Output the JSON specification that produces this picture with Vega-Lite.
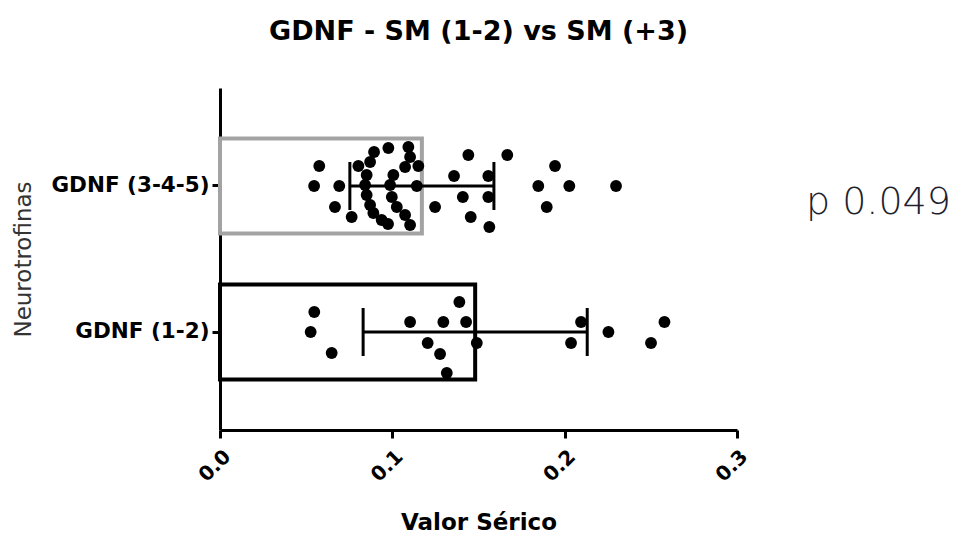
{
  "$schema": "https://vega.github.io/schema/vega-lite/v6.json",
  "width": 517,
  "height": 342,
  "autosize": {"type": "none"},
  "padding": {"left": 220, "top": 88, "right": 221, "bottom": 105},
  "background": "white",
  "title": {"text": "GDNF - SM (1-2) vs SM (+3)", "font": "DejaVu Sans", "fontSize": 27, "fontWeight": "bold", "color": "#000", "frame": "group", "anchor": "middle", "offset": 42},
  "config": {"view": {"stroke": null}},
  "datasets": {
    "pts": [
      {"g": "GDNF (3-4-5)", "v": 0.0576, "j": -20},
      {"g": "GDNF (3-4-5)", "v": 0.0546, "j": 0},
      {"g": "GDNF (3-4-5)", "v": 0.0692, "j": 0},
      {"g": "GDNF (3-4-5)", "v": 0.0667, "j": 21},
      {"g": "GDNF (3-4-5)", "v": 0.0764, "j": 31},
      {"g": "GDNF (3-4-5)", "v": 0.0803, "j": -20},
      {"g": "GDNF (3-4-5)", "v": 0.0894, "j": -34},
      {"g": "GDNF (3-4-5)", "v": 0.0871, "j": -24},
      {"g": "GDNF (3-4-5)", "v": 0.0851, "j": -11},
      {"g": "GDNF (3-4-5)", "v": 0.0842, "j": -1},
      {"g": "GDNF (3-4-5)", "v": 0.0851, "j": 9},
      {"g": "GDNF (3-4-5)", "v": 0.0871, "j": 19},
      {"g": "GDNF (3-4-5)", "v": 0.089, "j": 27},
      {"g": "GDNF (3-4-5)", "v": 0.0938, "j": 34},
      {"g": "GDNF (3-4-5)", "v": 0.0975, "j": 38},
      {"g": "GDNF (3-4-5)", "v": 0.0977, "j": -38},
      {"g": "GDNF (3-4-5)", "v": 0.1093, "j": -39},
      {"g": "GDNF (3-4-5)", "v": 0.1103, "j": -29},
      {"g": "GDNF (3-4-5)", "v": 0.1074, "j": -19},
      {"g": "GDNF (3-4-5)", "v": 0.1151, "j": -20},
      {"g": "GDNF (3-4-5)", "v": 0.1006, "j": -11},
      {"g": "GDNF (3-4-5)", "v": 0.0987, "j": -1},
      {"g": "GDNF (3-4-5)", "v": 0.1142, "j": 0},
      {"g": "GDNF (3-4-5)", "v": 0.0997, "j": 11},
      {"g": "GDNF (3-4-5)", "v": 0.1026, "j": 21},
      {"g": "GDNF (3-4-5)", "v": 0.1074, "j": 29},
      {"g": "GDNF (3-4-5)", "v": 0.1103, "j": 39},
      {"g": "GDNF (3-4-5)", "v": 0.1441, "j": -31},
      {"g": "GDNF (3-4-5)", "v": 0.1667, "j": -31},
      {"g": "GDNF (3-4-5)", "v": 0.1358, "j": -10},
      {"g": "GDNF (3-4-5)", "v": 0.1557, "j": -10},
      {"g": "GDNF (3-4-5)", "v": 0.1409, "j": 11},
      {"g": "GDNF (3-4-5)", "v": 0.1557, "j": 11},
      {"g": "GDNF (3-4-5)", "v": 0.1248, "j": 21},
      {"g": "GDNF (3-4-5)", "v": 0.1455, "j": 31},
      {"g": "GDNF (3-4-5)", "v": 0.1563, "j": 41},
      {"g": "GDNF (3-4-5)", "v": 0.1944, "j": -20},
      {"g": "GDNF (3-4-5)", "v": 0.1847, "j": 0},
      {"g": "GDNF (3-4-5)", "v": 0.2027, "j": 0},
      {"g": "GDNF (3-4-5)", "v": 0.1896, "j": 21},
      {"g": "GDNF (3-4-5)", "v": 0.2298, "j": 0},
      {"g": "GDNF (1-2)", "v": 0.0547, "j": -20},
      {"g": "GDNF (1-2)", "v": 0.0526, "j": 0},
      {"g": "GDNF (1-2)", "v": 0.0648, "j": 21},
      {"g": "GDNF (1-2)", "v": 0.1103, "j": -10},
      {"g": "GDNF (1-2)", "v": 0.1296, "j": -10},
      {"g": "GDNF (1-2)", "v": 0.1389, "j": -30},
      {"g": "GDNF (1-2)", "v": 0.1428, "j": -10},
      {"g": "GDNF (1-2)", "v": 0.1205, "j": 11},
      {"g": "GDNF (1-2)", "v": 0.1277, "j": 22},
      {"g": "GDNF (1-2)", "v": 0.1316, "j": 41},
      {"g": "GDNF (1-2)", "v": 0.149, "j": 11},
      {"g": "GDNF (1-2)", "v": 0.2095, "j": -10},
      {"g": "GDNF (1-2)", "v": 0.2037, "j": 11},
      {"g": "GDNF (1-2)", "v": 0.2254, "j": 0},
      {"g": "GDNF (1-2)", "v": 0.2579, "j": -10},
      {"g": "GDNF (1-2)", "v": 0.2501, "j": 11}
    ],
    "ann": [{"g": "GDNF (3-4-5)", "x": 0.34, "label": "p 0.049"}]
  },
  "encoding": {
    "y": {
      "field": "g", "type": "nominal",
      "sort": ["GDNF (3-4-5)", "GDNF (1-2)"],
      "scale": {"domain": ["GDNF (3-4-5)", "GDNF (1-2)"], "paddingInner": 0.35, "paddingOuter": 0.346},
      "axis": {
        "title": "Neurotrofinas", "titleFont": "DejaVu Sans", "titleFontSize": 23, "titleFontWeight": "normal", "titleColor": "#333",
        "titlePadding": 15,
        "labelFont": "DejaVu Sans", "labelFontSize": 21.5, "labelFontWeight": "bold", "labelColor": "#000", "labelPadding": 3,
        "domainColor": "#000", "domainWidth": 3, "tickColor": "#000", "tickWidth": 3, "tickSize": 8, "grid": false
      }
    }
  },
  "layer": [
    {
      "data": {"name": "pts"},
      "mark": {"type": "bar", "fill": "white", "strokeWidth": 4, "height": 95},
      "encoding": {
        "x": {
          "aggregate": "mean", "field": "v", "type": "quantitative",
          "scale": {"domain": [0, 0.3], "nice": false},
          "axis": {
            "title": "Valor Sérico", "values": [0, 0.1, 0.2, 0.3], "format": ".1f", "labelAngle": -45,
            "labelFont": "DejaVu Sans", "labelFontSize": 20, "labelFontWeight": "bold", "labelColor": "#000", "labelPadding": 8,
            "titleFont": "DejaVu Sans", "titleFontSize": 23, "titleFontWeight": "bold", "titleColor": "#000", "titlePadding": 26,
            "domainColor": "#000", "domainWidth": 3, "tickColor": "#000", "tickWidth": 3, "tickSize": 8, "grid": false
          }
        },
        "stroke": {"field": "g", "type": "nominal", "scale": {"domain": ["GDNF (3-4-5)", "GDNF (1-2)"], "range": ["#a3a3a3", "#000000"]}, "legend": null}
      }
    },
    {
      "data": {"name": "pts"},
      "mark": {"type": "errorbar", "extent": "stdev", "color": "#000", "ticks": {"size": 48, "thickness": 3, "color": "#000", "opacity": 1}, "rule": {"strokeWidth": 3, "color": "#000", "opacity": 1}},
      "encoding": {
        "x": {"field": "v", "type": "quantitative", "title": "Valor Sérico", "scale": {"domain": [0, 0.3], "nice": false}}
      }
    },
    {
      "data": {"name": "pts"},
      "mark": {"type": "point", "filled": true, "color": "#000", "opacity": 1, "size": 140},
      "encoding": {
        "x": {"field": "v", "type": "quantitative", "title": "Valor Sérico", "scale": {"domain": [0, 0.3], "nice": false}},
        "yOffset": {"field": "j", "type": "quantitative", "scale": {"domain": [-50, 50], "range": [-2.55, 97.45]}}
      }
    },
    {
      "data": {"name": "ann"},
      "mark": {"type": "text", "font": "DejaVu Sans", "fontSize": 38, "fontWeight": 300, "color": "#1f1f2e", "align": "left", "baseline": "alphabetic", "dy": 28},
      "encoding": {
        "x": {"field": "x", "type": "quantitative", "title": "Valor Sérico", "scale": {"domain": [0, 0.3], "nice": false}},
        "text": {"field": "label"}
      }
    }
  ]
}
